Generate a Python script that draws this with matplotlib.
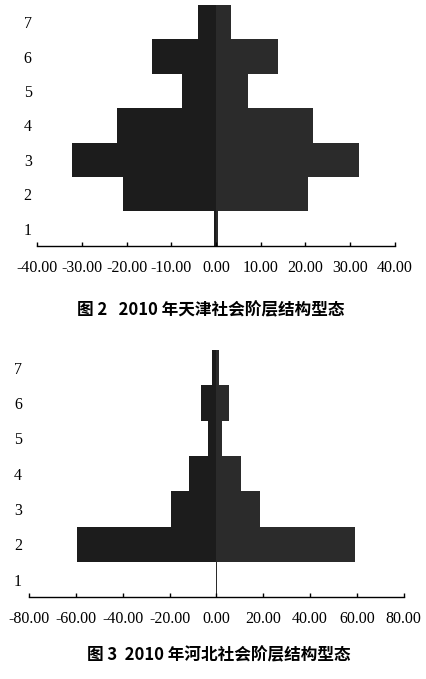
import matplotlib

matplotlib.use("Agg")
import matplotlib.pyplot as plt

plt.rcParams["font.family"] = ["Liberation Serif", "DejaVu Serif"]

# social strata levels (1 = lowest)
levels = [1, 2, 3, 4, 5, 6, 7]

# Tianjin 2010: left (negative) and right (positive) halves
tj_left = [-0.5, -20.9, -32.3, -22.2, -7.5, -14.4, -4.0]
tj_right = [0.5, 20.7, 32.0, 21.7, 7.2, 13.9, 3.4]
tj_ticks = [-40, -30, -20, -10, 0, 10, 20, 30, 40]

# Hebei 2010
hb_left = [-0.2, -59.7, -19.5, -11.8, -3.7, -6.7, -2.0]
hb_right = [0.2, 59.3, 18.5, 10.4, 2.6, 5.5, 1.0]
hb_ticks = [-80, -60, -40, -20, 0, 20, 40, 60, 80]

CAP_FONT = ["Noto Sans CJK SC", "DejaVu Sans"]
LEFT_COLOR = "#1c1c1c"
RIGHT_COLOR = "#2b2b2b"

W, H = 426, 679
fig = plt.figure(figsize=(W / 100, H / 100), dpi=100)


def px_axes(x0, x1, y_top, y_bot):
    return fig.add_axes([x0 / W, 1 - y_bot / H, (x1 - x0) / W, (y_bot - y_top) / H])


def pyramid(ax, left, right, ticks, ylab_pad):
    ax.barh(levels, left, height=1.0, color=LEFT_COLOR, linewidth=0)
    ax.barh(levels, right, height=1.0, color=RIGHT_COLOR, linewidth=0)
    ax.set_xlim(ticks[0], ticks[-1])
    ax.set_ylim(0.5, 7.5)
    for s in ("top", "right", "left"):
        ax.spines[s].set_visible(False)
    ax.spines["bottom"].set_linewidth(1.0)
    ax.set_xticks(ticks)
    ax.set_xticklabels([f"{t:.2f}" for t in ticks])
    ax.tick_params(axis="x", direction="in", length=3, width=1.0, labelsize=11.5, pad=10)
    ax.set_yticks(levels)
    ax.set_yticklabels([str(v) for v in levels])
    ax.tick_params(axis="y", length=0, labelsize=11.5, pad=ylab_pad)


ax1 = px_axes(37.3, 394.7, 5, 245.7)
pyramid(ax1, tj_left, tj_right, tj_ticks, 4)
fig.text(211 / W, 1 - 310 / H, "图 2   2010 年天津社会阶层结构型态",
         family=CAP_FONT, fontsize=12, fontweight="bold", ha="center", va="center")

ax2 = px_axes(29, 403.7, 350, 597.3)
pyramid(ax2, hb_left, hb_right, hb_ticks, 5)
fig.text(219 / W, 1 - 655 / H, "图 3  2010 年河北社会阶层结构型态",
         family=CAP_FONT, fontsize=12, fontweight="bold", ha="center", va="center")

fig.savefig("out.png", dpi=100)
